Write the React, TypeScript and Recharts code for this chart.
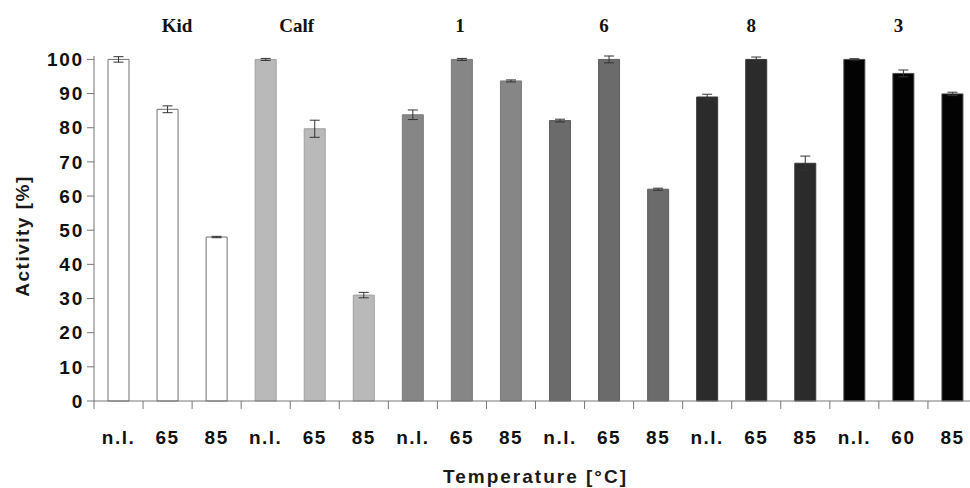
import React from 'react';
import { BarChart, Bar, XAxis, YAxis, Cell, ErrorBar } from 'recharts';

const categories = ['n.l.', '65', '85', 'n.l.', '65', '85', 'n.l.', '65', '85', 'n.l.', '65', '85', 'n.l.', '65', '85', 'n.l.', '60', '85'];
const groups = ['Kid', 'Calf', '1', '6', '8', '3'];
const activity = [100, 85.4, 48, 100, 79.7, 31, 83.8, 100, 93.7, 82.1, 100, 62, 89, 100, 69.6, 100, 95.9, 89.9];
const errors = [0.8, 1.0, 0.2, 0.3, 2.5, 0.8, 1.4, 0.3, 0.3, 0.4, 1.0, 0.3, 0.8, 0.7, 2.1, 0.2, 1.0, 0.5];
const yTicks = [0, 10, 20, 30, 40, 50, 60, 70, 80, 90, 100];

// styles / layout
const groupFills = ['#ffffff', '#b9b9b9', '#868686', '#6b6b6b', '#2b2b2b', '#030303'];
const groupStrokes = ['#707070', '#a0a0a0', '#7c7c7c', '#606060', '#3a3a3a', '#4a4a4a'];
const groupLabelDx = [9.5, -18, -2, -5, -5, -5];

const W = 980;
const H = 488;
const MARGIN = { top: 26, right: 3, bottom: 27, left: 24 };
const Y_AXIS_W = 70;
const PLOT_LEFT = MARGIN.left + Y_AXIS_W;
const PLOT_W = W - PLOT_LEFT - MARGIN.right;
const BAND = PLOT_W / categories.length;
const PLOT_BOTTOM = H - MARGIN.bottom - 60;

const data = categories.map((c, i) => ({
  id: `c${i}`,
  label: c,
  group: Math.floor(i / 3),
  value: activity[i],
  err: errors[i],
}));

const sans = '"Liberation Sans", Arial, Helvetica, sans-serif';
const serif = '"Liberation Serif", "Times New Roman", serif';

const BottomTick = (props: any) => {
  const { x, index } = props;
  const lx = x - BAND / 2;
  return (
    <g>
      <line x1={lx} y1={PLOT_BOTTOM} x2={lx} y2={PLOT_BOTTOM + 8} stroke="#777" strokeWidth={1} />
      <text
        x={x}
        y={PLOT_BOTTOM + 43}
        textAnchor="middle"
        fontFamily={sans}
        fontWeight="bold"
        fontSize={19}
        letterSpacing={1.5}
        fill="#111"
      >
        {categories[index]}
      </text>
    </g>
  );
};

const TopTick = (props: any) => {
  const { x, index } = props;
  if (index % 3 !== 1) return <g />;
  const g = Math.floor(index / 3);
  return (
    <text
      x={x + groupLabelDx[g]}
      y={32}
      textAnchor="middle"
      fontFamily={serif}
      fontWeight="bold"
      fontSize={19}
      fill="#111"
    >
      {groups[g]}
    </text>
  );
};

export default function App() {
  return (
    <div
      style={{
        position: 'absolute',
        left: 0,
        top: 0,
        width: 970,
        height: 488,
        overflow: 'hidden',
        background: '#fff',
      }}
    >
      <BarChart width={W} height={H} data={data} margin={MARGIN} barCategoryGap={0}>
        <XAxis
          xAxisId="top"
          orientation="top"
          dataKey="id"
          height={30}
          axisLine={false}
          tickLine={false}
          interval={0}
          tick={<TopTick />}
        />
        <XAxis
          xAxisId="bottom"
          orientation="bottom"
          dataKey="id"
          height={60}
          axisLine={{ stroke: '#777', strokeWidth: 1 }}
          tickLine={false}
          interval={0}
          tick={<BottomTick />}
        />
        <YAxis
          width={Y_AXIS_W}
          domain={[0, 100]}
          ticks={yTicks}
          interval={0}
          tickSize={7}
          tickMargin={3}
          axisLine={{ stroke: '#777', strokeWidth: 1 }}
          tickLine={{ stroke: '#777', strokeWidth: 1 }}
          tick={{ fontSize: 19, fontWeight: 'bold', fill: '#111', fontFamily: sans, letterSpacing: 1.8 }}
        />
        <Bar dataKey="value" xAxisId="bottom" barSize={21} isAnimationActive={false}>
          {data.map((d) => (
            <Cell key={d.id} fill={groupFills[d.group]} stroke={groupStrokes[d.group]} strokeWidth={1} />
          ))}
          <ErrorBar dataKey="err" direction="y" width={5} stroke="#333" strokeWidth={1} isAnimationActive={false} />
        </Bar>
      </BarChart>
      <svg
        width={970}
        height={488}
        style={{ position: 'absolute', left: 0, top: 0, pointerEvents: 'none' }}
      >
        <text
          x={PLOT_LEFT + PLOT_W / 2}
          y={483}
          textAnchor="middle"
          fontFamily={sans}
          fontWeight="bold"
          fontSize={19}
          letterSpacing={2}
          fill="#1a1a1a"
        >
          Temperature [°C]
        </text>
        <text
          transform="translate(29, 236) rotate(-90)"
          textAnchor="middle"
          fontFamily={sans}
          fontWeight="bold"
          fontSize={19}
          letterSpacing={1.5}
          fill="#1a1a1a"
        >
          Activity [%]
        </text>
      </svg>
    </div>
  );
}
